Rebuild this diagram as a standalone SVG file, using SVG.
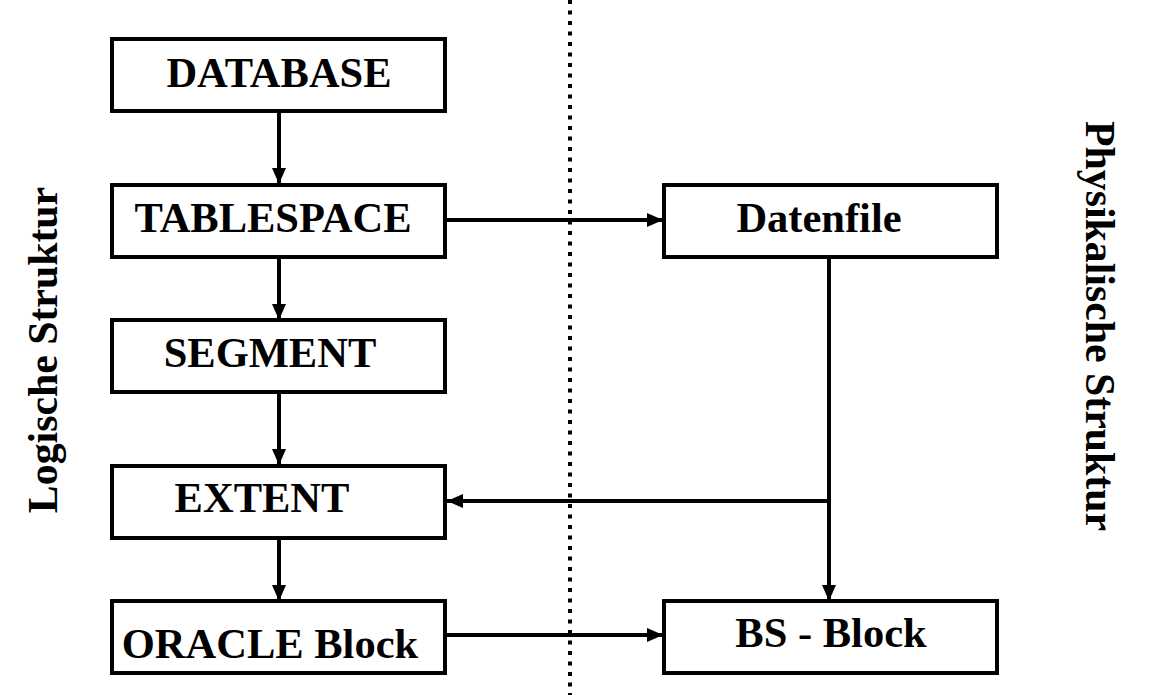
<svg xmlns="http://www.w3.org/2000/svg" width="1157" height="695" viewBox="0 0 1157 695">
<style>
.box{fill:#fff;stroke:#000;stroke-width:4}
.t{font-family:"Liberation Serif","Times New Roman",serif;font-weight:bold;font-size:42.5px;fill:#000}
.r{font-size:41.8px}
.c{fill:none;stroke:#000;stroke-width:4}
</style>
<defs>
<marker id="ah" viewBox="0 0 16 14" refX="16" refY="7" markerWidth="16" markerHeight="14" markerUnits="userSpaceOnUse" orient="auto">
<path d="M0,0 L16,7 L0,14 Z" fill="#000"/>
</marker>
</defs>
<rect width="1157" height="695" fill="#fff"/>
<line x1="570" y1="0" x2="570" y2="695" stroke="#000" stroke-width="4" stroke-dasharray="4 6.5"/>
<g id="connectors">
<line class="c" x1="279" y1="111" x2="279" y2="184" marker-end="url(#ah)"/>
<line class="c" x1="279" y1="257" x2="279" y2="320" marker-end="url(#ah)"/>
<line class="c" x1="279" y1="392" x2="279" y2="465" marker-end="url(#ah)"/>
<line class="c" x1="279" y1="538" x2="279" y2="601" marker-end="url(#ah)"/>
<line class="c" x1="445" y1="220" x2="663" y2="220" marker-end="url(#ah)"/>
<line class="c" x1="829" y1="257" x2="829" y2="601" marker-end="url(#ah)"/>
<line class="c" x1="831" y1="501" x2="447" y2="501" marker-end="url(#ah)"/>
<line class="c" x1="445" y1="635" x2="663" y2="635" marker-end="url(#ah)"/>
</g>
<g id="database"><rect class="box" x="112" y="39" width="333" height="72"/><text class="t" x="279" y="87" text-anchor="middle">DATABASE</text></g>
<g id="tablespace"><rect class="box" x="112" y="185" width="333" height="72"/><text class="t" x="273" y="232" text-anchor="middle">TABLESPACE</text></g>
<g id="segment"><rect class="box" x="112" y="320" width="333" height="72"/><text class="t" x="270" y="367" text-anchor="middle">SEGMENT</text></g>
<g id="extent"><rect class="box" x="112" y="466" width="333" height="72"/><text class="t" x="262" y="512" text-anchor="middle">EXTENT</text></g>
<g id="oracle-block"><rect class="box" x="112" y="601" width="333" height="72"/><text class="t" x="270" y="658" text-anchor="middle">ORACLE Block</text></g>
<g id="datenfile"><rect class="box" x="664" y="185" width="333" height="72"/><text class="t" x="819" y="232" text-anchor="middle">Datenfile</text></g>
<g id="bs-block"><rect class="box" x="664" y="601" width="333" height="72"/><text class="t" x="831" y="647" text-anchor="middle">BS - Block</text></g>
<g id="logische"><text class="t r" transform="translate(57,350) rotate(-90)" text-anchor="middle">Logische Struktur</text></g>
<g id="physikalische"><text class="t r" transform="translate(1086,326) rotate(90)" text-anchor="middle">Physikalische Struktur</text></g>
</svg>
